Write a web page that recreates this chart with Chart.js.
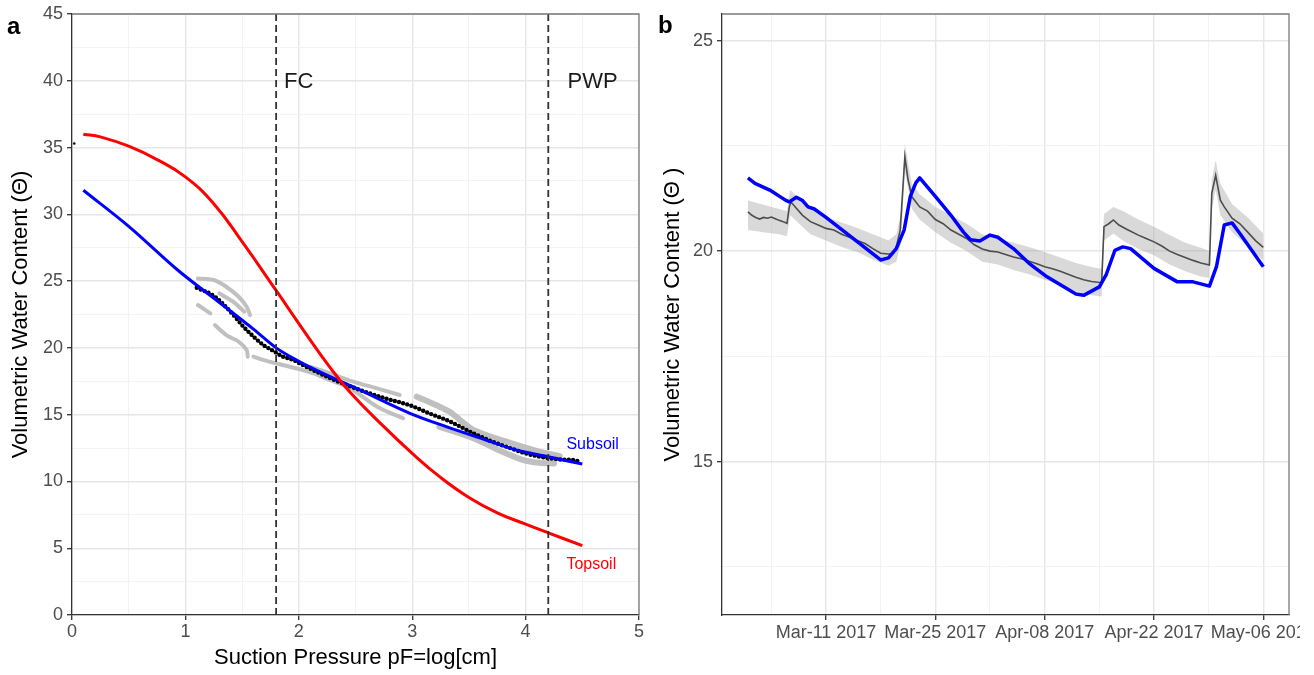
<!DOCTYPE html>
<html>
<head>
<meta charset="utf-8">
<script src="https://cdn.jsdelivr.net/npm/chart.js@4.4.1/dist/chart.umd.min.js"></script>
<style>
  body { margin: 0; background: #fff; }
  #wrap { position: relative; width: 1314px; height: 675px; font-family: "Liberation Sans", Arial, sans-serif; }
  canvas { position: absolute; top: 0; }
  .tag { position: absolute; font-weight: bold; font-size: 24px; line-height: 24px; color: #000; }
</style>
</head>
<body>
<div id="wrap">
  <canvas id="chartA" width="657" height="675" style="left:0px"></canvas>
  <canvas id="chartB" width="643" height="675" style="left:657px"></canvas>
  <div class="tag" style="left:7px; top:14px">a</div>
  <div class="tag" style="left:658px; top:13px">b</div>
</div>
<script>
// ---- panel a : water retention curves (x = pF, y = volumetric water content) ----
const pfTicks = [0, 0.5, 1, 1.5, 2, 2.5, 3, 3.5, 4, 4.5, 5];
const vwcTicks = [0, 2.5, 5, 7.5, 10, 12.5, 15, 17.5, 20, 22.5, 25, 27.5, 30, 32.5, 35, 37.5, 40, 42.5, 45];

const topsoilPF  = [0.1, 0.25, 0.5, 0.75, 1.0, 1.25, 1.5, 1.8, 2.1, 2.27, 2.45, 2.75, 3.0, 3.25, 3.5, 3.75, 4.0, 4.2, 4.5];
const topsoilVWC = [36.0, 35.8, 35.1, 34.1, 32.8, 30.8, 27.95, 24.3, 20.6, 18.6, 16.7, 14.1, 12.1, 10.3, 8.8, 7.65, 6.8, 6.15, 5.2];

const subsoilPF  = [0.1, 0.5, 0.95, 1.3, 1.6, 1.8, 2.0, 2.2, 2.5, 2.98, 3.3, 3.65, 3.9, 4.2, 4.5];
const subsoilVWC = [31.8, 29.1, 25.7, 23.4, 21.4, 20.0, 19.0, 18.15, 17.0, 15.1, 14.1, 13.1, 12.4, 11.85, 11.3];

// fitted points (black dots)
const fitPF  = [1.1, 1.25, 1.33, 1.42, 1.51, 1.6, 1.69, 1.77, 1.86, 1.95, 2.04, 2.16, 2.3, 2.54, 2.75, 2.98, 3.15, 3.33, 3.54, 3.7, 3.83, 4.0, 4.13, 4.3, 4.42, 4.48];
const fitVWC = [24.5, 23.9, 23.3, 22.5, 21.6, 20.85, 20.2, 19.8, 19.35, 19.1, 18.7, 18.2, 17.65, 16.85, 16.25, 15.7, 15.1, 14.5, 13.6, 13.0, 12.6, 12.1, 11.85, 11.65, 11.6, 11.5];
const strayPoint = [0.02, 35.3];

// measured sensor data (grey streaks), [pF, vwc]
const measA = [[1.11, 25.2], [1.25, 25.08], [1.36, 24.58], [1.47, 23.83], [1.54, 23.08], [1.57, 22.46]];
const measB = [[1.3, 24.08], [1.42, 23.46], [1.52, 22.71]];
const measC = [[1.11, 23.21], [1.22, 22.59]];
const measD = [[1.26, 21.71], [1.36, 20.96], [1.47, 20.46], [1.54, 19.84], [1.55, 19.34]];
const measE = [[1.6, 19.34], [1.74, 18.97], [1.92, 18.59], [2.13, 18.1], [2.27, 17.6], [2.45, 17.0], [2.69, 15.6], [2.92, 14.73]];
const measF = [[2.1, 18.59], [2.27, 18.1], [2.48, 17.47], [2.69, 16.97], [2.89, 16.47]];
const measG = [[3.04, 16.35], [3.21, 15.72], [3.33, 15.22], [3.54, 13.85], [3.83, 12.98], [4.12, 12.23], [4.3, 11.9]];
const measH = [[3.24, 14.1], [3.54, 13.23], [3.8, 12.2], [3.98, 11.6], [4.12, 11.4], [4.25, 11.35]];

const fcPF = 1.8;
const pwpPF = 4.2;

// ---- panel b : time series, x = days since 2017-03-01 ----
const weekTicks = [3, 10, 17, 24, 31, 38, 45, 52, 59, 66];
const dateTickDays = [10, 24, 38, 52, 66];
const dateTickLabels = ['Mar-11 2017', 'Mar-25 2017', 'Apr-08 2017', 'Apr-22 2017', 'May-06 2017'];
const vwcTicksB = [12.5, 15, 17.5, 20, 22.5, 25];

const sensorDays = [0, 0.5, 1, 1.5, 2, 2.5, 3, 3.5, 4, 4.5, 5, 5.3, 5.5, 6.2, 7, 8, 9, 10, 11, 12, 13, 14, 15, 16, 17, 18, 18.6, 19, 19.5, 20.1, 20.5, 21, 22, 23, 24, 25, 26, 27, 28, 29, 30, 31, 32, 33, 34, 35, 36, 37, 38, 39, 40, 41, 42, 43, 44, 45.3, 45.6, 46.2, 46.8, 47.5, 48.5, 50, 51, 52, 53, 54, 55, 56, 57, 58, 59.1, 59.4, 59.9, 60.5, 61, 62, 63, 64, 65, 66];
const sensorMean = [20.93, 20.85, 20.8, 20.76, 20.8, 20.78, 20.81, 20.77, 20.73, 20.7, 20.66, 21.05, 21.17, 21.02, 20.85, 20.7, 20.62, 20.54, 20.5, 20.4, 20.33, 20.25, 20.18, 20.06, 19.95, 19.93, 19.94, 20.1, 20.5, 22.24, 21.7, 21.29, 21.05, 20.95, 20.75, 20.65, 20.5, 20.4, 20.3, 20.15, 20.05, 20.0, 19.98, 19.92, 19.86, 19.82, 19.76, 19.7, 19.63, 19.58, 19.52, 19.45, 19.38, 19.32, 19.28, 19.25, 20.58, 20.65, 20.74, 20.62, 20.52, 20.38, 20.3, 20.22, 20.12, 20.0, 19.92, 19.85, 19.78, 19.72, 19.67, 21.37, 21.8, 21.21, 21.05, 20.78, 20.65, 20.45, 20.25, 20.09];

const bandDays = [0, 2, 4, 5, 5.4, 6, 8, 10, 12, 14, 16, 18, 19, 19.6, 20.1, 20.6, 21, 22, 24, 26, 28, 30, 32, 34, 36, 38, 40, 42, 44, 45.3, 45.6, 46.8, 48, 50, 52, 54, 56, 58, 59.1, 59.4, 59.9, 60.5, 62, 64, 66];
const bandHigh = [21.2, 21.1, 21.0, 20.95, 21.45, 21.35, 21.0, 20.8, 20.68, 20.55, 20.4, 20.25, 20.4, 20.9, 22.56, 22.0, 21.6, 21.35, 21.05, 20.85, 20.65, 20.4, 20.3, 20.2, 20.1, 19.98, 19.85, 19.72, 19.62, 19.58, 20.88, 21.05, 20.95, 20.75, 20.58, 20.38, 20.2, 20.08, 20.0, 21.7, 22.16, 21.6, 21.12, 20.8, 20.42];
const bandLow  = [20.5, 20.45, 20.4, 20.35, 20.85, 20.75, 20.4, 20.25, 20.1, 19.98, 19.8, 19.65, 19.75, 20.2, 21.9, 21.4, 21.0, 20.75, 20.45, 20.2, 20.0, 19.75, 19.68, 19.55, 19.45, 19.32, 19.2, 19.05, 18.95, 18.92, 20.25, 20.42, 20.25, 20.05, 19.9, 19.68, 19.52, 19.4, 19.36, 21.0, 21.45, 20.85, 20.45, 20.12, 19.78];

const modelDays = [0, 0.9, 2.8, 4.8, 5.3, 6.2, 7, 7.7, 8.5, 10, 17, 18, 19, 20, 20.8, 21.5, 22, 24, 26, 27.6, 28.5, 29.7, 31, 32, 34, 36, 38.3, 42, 43, 45, 45.9, 47, 48, 49, 52, 55, 57, 59.1, 60, 61, 62, 63, 66];
const modelVWC  = [21.74, 21.61, 21.45, 21.21, 21.17, 21.28, 21.2, 21.05, 21.0, 20.8, 19.79, 19.84, 20.06, 20.5, 21.3, 21.62, 21.74, 21.3, 20.85, 20.45, 20.27, 20.24, 20.38, 20.33, 20.06, 19.71, 19.39, 18.98, 18.95, 19.15, 19.45, 20.02, 20.1, 20.06, 19.59, 19.27, 19.27, 19.17, 19.63, 20.62, 20.67, 20.42, 19.63];

Chart.defaults.font.family = '"Liberation Sans", Arial, sans-serif';
Chart.defaults.animation = false;

const xy = (xs, ys) => xs.map((x, i) => ({ x: x, y: ys[i] }));
const pairs = arr => arr.map(p => ({ x: p[0], y: p[1] }));

// top and right edge of the panel
const frame = {
  id: 'frame',
  afterDraw(chart) {
    const { ctx, chartArea: a } = chart;
    ctx.save();
    ctx.strokeStyle = '#7a7a7a';
    ctx.lineWidth = 1.3;
    ctx.beginPath();
    ctx.moveTo(a.left, a.top);
    ctx.lineTo(a.right, a.top);
    ctx.lineTo(a.right, a.bottom);
    ctx.stroke();
    ctx.restore();
  }
};

// text notes placed in data coordinates
const notes = {
  id: 'notes',
  afterDatasetsDraw(chart, args, opts) {
    const { ctx, scales } = chart;
    ctx.save();
    ctx.textBaseline = 'middle';
    ctx.textAlign = 'left';
    (opts.items || []).forEach(n => {
      ctx.font = n.size + 'px "Liberation Sans", Arial, sans-serif';
      ctx.fillStyle = n.color;
      ctx.fillText(n.text, scales.x.getPixelForValue(n.x), scales.y.getPixelForValue(n.y));
    });
    ctx.restore();
  }
};

const isMajor = (v, step) => Math.abs(v / step - Math.round(v / step)) < 1e-6;

function gridOpts(step) {
  return {
    color: c => (c.tick && isMajor(c.tick.value, step)) ? '#e6e6e6' : '#f2f2f2',
    lineWidth: c => (c.tick && isMajor(c.tick.value, step)) ? 1.4 : 0.9,
    tickLength: 5,
    tickWidth: 1.3,
    tickColor: c => (c.tick && isMajor(c.tick.value, step)) ? '#333333' : 'rgba(0,0,0,0)'
  };
}

const tickFont = { size: 18 };
const tickColor = '#4d4d4d';

const streak = (arr, w) => ({
  data: pairs(arr), borderColor: 'rgba(185,185,185,0.9)', borderWidth: w || 4,
  borderCapStyle: 'round', pointRadius: 0, tension: 0.3, order: 6
});

new Chart(document.getElementById('chartA'), {
  type: 'line',
  data: {
    datasets: [
      { data: [{ x: fcPF, y: 0 }, { x: fcPF, y: 45 }], borderColor: '#333', borderWidth: 1.8, borderDash: [7, 4], pointRadius: 0, order: 0 },
      { data: [{ x: pwpPF, y: 0 }, { x: pwpPF, y: 45 }], borderColor: '#333', borderWidth: 1.8, borderDash: [7, 4], pointRadius: 0, order: 0 },
      { data: xy(topsoilPF, topsoilVWC), borderColor: '#ff0000', borderWidth: 3, pointRadius: 0, tension: 0.45, order: 1 },
      { data: xy(subsoilPF, subsoilVWC), borderColor: '#0000ff', borderWidth: 3, pointRadius: 0, cubicInterpolationMode: 'monotone', order: 2 },
      { data: xy(fitPF, fitVWC), borderColor: '#000', borderWidth: 4.4, borderDash: [0, 4.3], borderCapStyle: 'round', pointRadius: 0, cubicInterpolationMode: 'monotone', order: 3 },
      { data: [{ x: strayPoint[0], y: strayPoint[1] }], showLine: false, pointRadius: 1.3, pointBorderWidth: 0, pointBackgroundColor: '#000', order: 3 },
      streak(measA), streak(measB), streak(measC), streak(measD),
      streak(measE), streak(measF), streak(measG, 6), streak(measH, 6)
    ]
  },
  options: {
    responsive: false,
    layout: { padding: { top: 14, right: 18, left: 0, bottom: 0 } },
    plugins: {
      legend: { display: false },
      tooltip: { enabled: false },
      notes: {
        items: [
          { text: 'FC', x: 1.87, y: 39.9, color: '#1a1a1a', size: 22 },
          { text: 'PWP', x: 4.37, y: 39.9, color: '#1a1a1a', size: 22 },
          { text: 'Subsoil', x: 4.36, y: 12.75, color: '#0000ff', size: 16 },
          { text: 'Topsoil', x: 4.36, y: 3.8, color: '#ff0000', size: 16 }
        ]
      }
    },
    scales: {
      x: {
        type: 'linear', min: 0, max: 5,
        afterBuildTicks: s => { s.ticks = pfTicks.map(v => ({ value: v })); },
        afterFit: s => { s.height = 60; s.paddingLeft = 0; s.paddingRight = 0; },
        ticks: { callback: v => isMajor(v, 1) ? String(v) : '', font: tickFont, color: tickColor, padding: 1, maxRotation: 0, minRotation: 0, autoSkip: false },
        grid: gridOpts(1),
        border: { color: '#333', width: 1.3 },
        title: { display: true, text: 'Suction Pressure pF=log[cm]', font: { size: 22 }, color: '#000', padding: { top: 0, bottom: 4 } }
      },
      y: {
        type: 'linear', min: 0, max: 45,
        afterBuildTicks: s => { s.ticks = vwcTicks.map(v => ({ value: v })); },
        afterFit: s => { s.width = 72; s.paddingTop = 0; s.paddingBottom = 0; },
        ticks: { callback: v => isMajor(v, 5) ? String(v) : '', font: tickFont, color: tickColor, padding: 4, autoSkip: false },
        grid: gridOpts(5),
        border: { color: '#333', width: 1.3 },
        title: { display: true, text: 'Volumetric Water Content (Θ)', font: { size: 22 }, color: '#000', padding: { top: 8, bottom: 0 } }
      }
    }
  },
  plugins: [frame, notes]
});

new Chart(document.getElementById('chartB'), {
  type: 'line',
  data: {
    datasets: [
      { data: xy(modelDays, modelVWC), borderColor: '#0000ff', borderWidth: 3.5, pointRadius: 0, tension: 0, borderJoinStyle: 'round', order: 0 },
      { data: xy(sensorDays, sensorMean), borderColor: '#4d4d4d', borderWidth: 1.6, pointRadius: 0, tension: 0, order: 1 },
      { data: xy(bandDays, bandHigh), borderWidth: 0, pointRadius: 0, fill: '+1', backgroundColor: 'rgba(165,165,165,0.42)', tension: 0, order: 2 },
      { data: xy(bandDays, bandLow), borderWidth: 0, pointRadius: 0, fill: false, tension: 0, order: 3 }
    ]
  },
  options: {
    responsive: false,
    layout: { padding: { top: 14, right: 11, left: 0, bottom: 0 } },
    plugins: { legend: { display: false }, tooltip: { enabled: false } },
    scales: {
      x: {
        type: 'linear', min: -3.32, max: 69.29,
        afterBuildTicks: s => { s.ticks = weekTicks.map(v => ({ value: v })); },
        afterFit: s => { s.height = 60; s.paddingLeft = 0; s.paddingRight = 0; },
        ticks: {
          callback: v => { const i = dateTickDays.indexOf(v); return i >= 0 ? dateTickLabels[i] : ''; },
          font: tickFont, color: tickColor, padding: 2, maxRotation: 0, minRotation: 0, autoSkip: false
        },
        grid: {
          color: c => (c.tick && dateTickDays.includes(c.tick.value)) ? '#e6e6e6' : '#f2f2f2',
          lineWidth: c => (c.tick && dateTickDays.includes(c.tick.value)) ? 1.4 : 0.9,
          tickLength: 5, tickWidth: 1.3,
          tickColor: c => (c.tick && dateTickDays.includes(c.tick.value)) ? '#333333' : 'rgba(0,0,0,0)'
        },
        border: { color: '#333', width: 1.3 }
      },
      y: {
        type: 'linear', min: 11.36, max: 25.63,
        afterBuildTicks: s => { s.ticks = vwcTicksB.map(v => ({ value: v })); },
        afterFit: s => { s.width = 65; s.paddingTop = 0; s.paddingBottom = 0; },
        ticks: { callback: v => isMajor(v, 5) ? String(v) : '', font: tickFont, color: tickColor, padding: 4, autoSkip: false },
        grid: gridOpts(5),
        border: { color: '#333', width: 1.3 },
        title: { display: true, text: 'Volumetric Water Content (Θ )', font: { size: 22 }, color: '#000', padding: { top: 3, bottom: 0 } }
      }
    }
  },
  plugins: [frame]
});
</script>
</body>
</html>
